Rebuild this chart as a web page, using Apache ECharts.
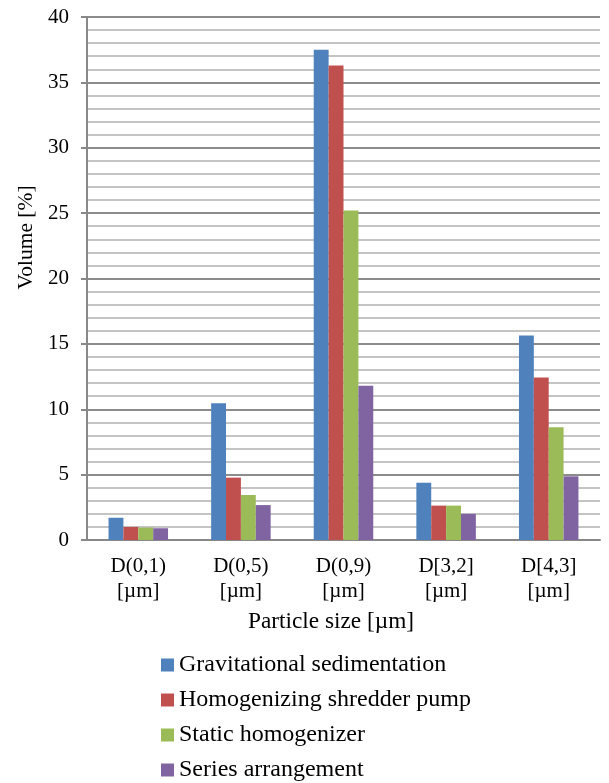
<!DOCTYPE html>
<html>
<head>
<meta charset="utf-8">
<script src="https://cdn.jsdelivr.net/npm/echarts@6/dist/echarts.min.js"></script>
<style>
  html, body { margin: 0; padding: 0; background: #fff; }
  #container { width: 609px; height: 783px; }
</style>
</head>
<body>
<div id="container"></div>
<script>
// categories and values
var categories = ['D(0,1)\n[µm]', 'D(0,5)\n[µm]', 'D(0,9)\n[µm]', 'D[3,2]\n[µm]', 'D[4,3]\n[µm]'];
var seriesNames = ['Gravitational sedimentation', 'Homogenizing shredder pump', 'Static homogenizer', 'Series arrangement'];
var gravitational = [1.7, 10.45, 37.5, 4.38, 15.65];
var shredderPump = [1.0, 4.77, 36.3, 2.63, 12.42];
var staticHomogenizer = [0.95, 3.44, 25.2, 2.63, 8.62];
var seriesArrangement = [0.9, 2.67, 11.8, 2.0, 4.87];
var colors = ['#4F81BD', '#C0504D', '#9BBB59', '#8064A2'];

var font = 'Liberation Serif';

var myChart = echarts.init(document.getElementById('container'));

var allData = [gravitational, shredderPump, staticHomogenizer, seriesArrangement];
var series = [];
for (var i = 0; i < seriesNames.length; i++) {
    series.push({
        name: seriesNames[i],
        type: 'bar',
        data: allData[i],
        barGap: '0%',
        barCategoryGap: '42%',
        itemStyle: {color: colors[i]}
    });
}

var option = {
    animation: false,
    color: colors,
    grid: {left: 87, right: 9, top: 17, bottom: 243},
    legend: {
        orient: 'vertical',
        left: 161,
        top: 653,
        height: 200,
        padding: 0,
        icon: 'rect',
        itemWidth: 13,
        itemHeight: 13,
        itemGap: 11,
        data: seriesNames,
        textStyle: {fontFamily: font, fontSize: 24, lineHeight: 23, color: '#000'}
    },
    xAxis: {
        type: 'category',
        data: categories,
        name: 'Particle size [µm]',
        nameLocation: 'middle',
        nameGap: 70,
        nameTextStyle: {fontFamily: font, fontSize: 23.3, color: '#000', padding: [0, 25, 0, 0]},
        axisLine: {lineStyle: {color: '#888', width: 2}},
        axisTick: {show: false},
        axisLabel: {fontFamily: font, fontSize: 21, color: '#000', margin: 14, lineHeight: 25, interval: 0}
    },
    yAxis: {
        type: 'value',
        min: 0,
        max: 40,
        interval: 5,
        name: 'Volume [%]',
        nameLocation: 'middle',
        nameGap: 50,
        nameTextStyle: {fontFamily: font, fontSize: 21.5, color: '#000', padding: [0, 0, 0, 82]},
        axisLine: {show: true, lineStyle: {color: '#888', width: 2}},
        axisTick: {show: true, length: 6, lineStyle: {color: '#888', width: 2}},
        axisLabel: {fontFamily: font, fontSize: 21, color: '#000', margin: 18},
        splitLine: {lineStyle: {color: '#8c8c8c', width: 2}},
        minorTick: {show: false, splitNumber: 5},
        minorSplitLine: {show: true, lineStyle: {color: '#c4c4c4', width: 2}}
    },
    series: series
};

myChart.setOption(option);
</script>
</body>
</html>
